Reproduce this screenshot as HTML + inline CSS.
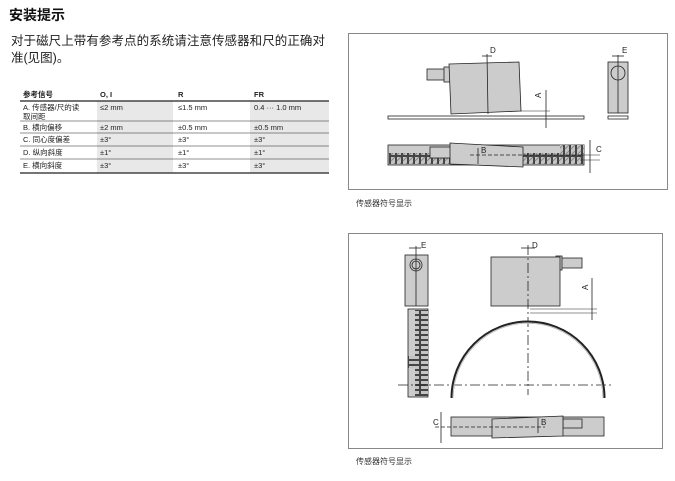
<!DOCTYPE html>
<html><head><meta charset="utf-8"><style>
body{margin:0;background:#fff;}
svg{display:block;font-family:"Liberation Sans","Noto Sans CJK SC",sans-serif;}
</style></head><body>
<svg width="675" height="481" viewBox="0 0 675 481" xmlns="http://www.w3.org/2000/svg">
<defs>
<pattern id="h" width="6" height="12" patternUnits="userSpaceOnUse">
<rect width="6" height="12" fill="#444"/><rect x="1" y="1" width="4" height="10" fill="#c4c4c4"/>
<path d="M1 5L5 1M1 11L5 7" stroke="#888" stroke-width="1"/>
</pattern>
<pattern id="hv" width="12" height="5" patternUnits="userSpaceOnUse">
<rect width="12" height="5" fill="#444"/><rect x="1" y="1" width="10" height="3" fill="#c4c4c4"/>
</pattern>
</defs>
<text x="9" y="20" font-size="14" font-weight="bold" fill="#111">安装提示</text>
<text x="11" y="45" font-size="12.5" fill="#222" textLength="314">对于磁尺上带有参考点的系统请注意传感器和尺的正确对</text>
<text x="11" y="62" font-size="12.5" fill="#222">准(见图)。</text>
<rect x="97" y="101" width="76" height="72" fill="#e8e8e8"/>
<rect x="250" y="101" width="79" height="72" fill="#e8e8e8"/>
<g font-size="7.5" fill="#222">
<text x="23" y="97" font-weight="bold">参考信号</text><text x="100" y="97" font-weight="bold">O, I</text><text x="178" y="97" font-weight="bold">R</text><text x="254" y="97" font-weight="bold">FR</text>
<text x="23" y="110">A. 传感器/尺的读</text><text x="23" y="119">取间距</text>
<text x="100" y="110">≤2 mm</text><text x="178" y="110">≤1.5 mm</text><text x="254" y="110">0.4 ··· 1.0 mm</text>
<text x="23" y="130">B. 横向偏移</text><text x="100" y="130">±2 mm</text><text x="178" y="130">±0.5 mm</text><text x="254" y="130">±0.5 mm</text>
<text x="23" y="142">C. 同心度偏差</text><text x="100" y="142">±3°</text><text x="178" y="142">±3°</text><text x="254" y="142">±3°</text>
<text x="23" y="155">D. 纵向斜度</text><text x="100" y="155">±1°</text><text x="178" y="155">±1°</text><text x="254" y="155">±1°</text>
<text x="23" y="168">E. 横向斜度</text><text x="100" y="168">±3°</text><text x="178" y="168">±3°</text><text x="254" y="168">±3°</text>
</g>
<g stroke="#222">
<line x1="20" y1="101" x2="329" y2="101" stroke-width="1.2"/>
<line x1="20" y1="121" x2="329" y2="121" stroke-width="0.6"/>
<line x1="20" y1="133" x2="329" y2="133" stroke-width="0.6"/>
<line x1="20" y1="146" x2="329" y2="146" stroke-width="0.6"/>
<line x1="20" y1="159" x2="329" y2="159" stroke-width="0.6"/>
<line x1="20" y1="173" x2="329" y2="173" stroke-width="1.2"/>
</g>
<rect x="348.5" y="33.5" width="319" height="156" fill="none" stroke="#888"/>
<text x="356" y="206" font-size="8" fill="#333">传感器符号显示</text>
<g stroke="#222" stroke-width="0.8">
<rect x="427" y="69" width="18" height="11" fill="#ccc"/>
<rect x="444" y="67" width="6" height="15" fill="#ccc"/>
<polygon points="449,64 519,62 521,111 451,114" fill="#ccc"/>
<line x1="487" y1="54" x2="488" y2="114"/>
<line x1="482" y1="56" x2="492" y2="56"/>
<rect x="388" y="116" width="196" height="3" fill="#fff"/>
<line x1="546" y1="90" x2="546" y2="128"/><line x1="520" y1="111" x2="550" y2="111" stroke-width="0.5"/>
<rect x="608" y="62" width="20" height="51" fill="#ccc"/>
<circle cx="618" cy="73" r="7" fill="#ccc"/>
<line x1="618" y1="55" x2="618" y2="113"/>
<line x1="612" y1="56" x2="624" y2="56"/>
<rect x="608" y="116" width="20" height="3" fill="#fff"/>
<rect x="388" y="145" width="196" height="20" fill="#ccc"/>
<rect x="389" y="153" width="194" height="11" fill="url(#h)" stroke="none"/>
<rect x="560" y="145" width="24" height="8" fill="url(#h)" stroke="none"/>
<rect x="430" y="147" width="22" height="11" fill="#ccc"/>
<polygon points="450,143 523,147 523,167 450,164" fill="#ccc"/>
<line x1="470" y1="155" x2="584" y2="155" stroke-dasharray="4,2"/>
<line x1="478" y1="148" x2="478" y2="164"/>
<line x1="590" y1="140" x2="590" y2="173"/><line x1="580" y1="155" x2="600" y2="155" stroke-width="0.5"/><line x1="580" y1="160" x2="600" y2="160" stroke-width="0.5"/>
</g>
<g font-size="8" fill="#222">
<text x="490" y="53">D</text><text x="622" y="53">E</text>
<text x="541" y="98" transform="rotate(-90 541 98)">A</text>
<text x="481" y="153">B</text><text x="596" y="152">C</text>
</g>
<rect x="348.5" y="233.5" width="314" height="215" fill="none" stroke="#888"/>
<text x="356" y="464" font-size="8" fill="#333">传感器符号显示</text>
<g stroke="#222" stroke-width="0.8">
<rect x="405" y="255" width="23" height="51" fill="#ccc"/>
<circle cx="416" cy="265" r="6" fill="#ccc"/><circle cx="416" cy="265" r="4" fill="#ccc"/>
<line x1="416" y1="246" x2="416" y2="306"/><line x1="409" y1="248" x2="421" y2="248"/>
<rect x="408" y="309" width="20" height="88" fill="#ccc"/>
<rect x="415" y="310" width="13" height="86" fill="url(#hv)" stroke="none"/>
<rect x="408" y="356" width="20" height="12" fill="url(#hv)" stroke="none"/>
<rect x="560" y="258" width="22" height="10" fill="#ccc"/>
<rect x="556" y="256" width="6" height="14" fill="#ccc"/>
<rect x="491" y="257" width="69" height="49" fill="#ccc"/>
<line x1="528" y1="245" x2="528" y2="395" stroke-dasharray="10,3,2,3"/>
<line x1="398" y1="385" x2="612" y2="385" stroke-dasharray="10,3,2,3"/>
<line x1="521" y1="248" x2="535" y2="248"/>
<path d="M452 398 A76 76 0 0 1 604 398" fill="none" stroke-width="3"/>
<path d="M453 398 A75 75 0 0 1 603 398" fill="none" stroke="#ccc" stroke-width="1"/>
<line x1="592" y1="278" x2="592" y2="320"/><line x1="530" y1="309" x2="597" y2="309" stroke-width="0.5"/><line x1="530" y1="313" x2="597" y2="313" stroke-width="0.5"/>
<rect x="451" y="417" width="153" height="19" fill="#ccc"/>
<rect x="563" y="419" width="19" height="9" fill="#ccc"/>
<polygon points="492,419 563,416 563,436 492,438" fill="#ccc"/>
<line x1="435" y1="427" x2="545" y2="427" stroke-dasharray="4,2"/>
<line x1="538" y1="418" x2="538" y2="433"/>
<line x1="441" y1="412" x2="441" y2="443"/>
</g>
<g font-size="8" fill="#222">
<text x="421" y="248">E</text><text x="532" y="248">D</text>
<text x="588" y="290" transform="rotate(-90 588 290)">A</text>
<text x="541" y="425">B</text><text x="433" y="425">C</text>
</g>
</svg>
</body></html>
